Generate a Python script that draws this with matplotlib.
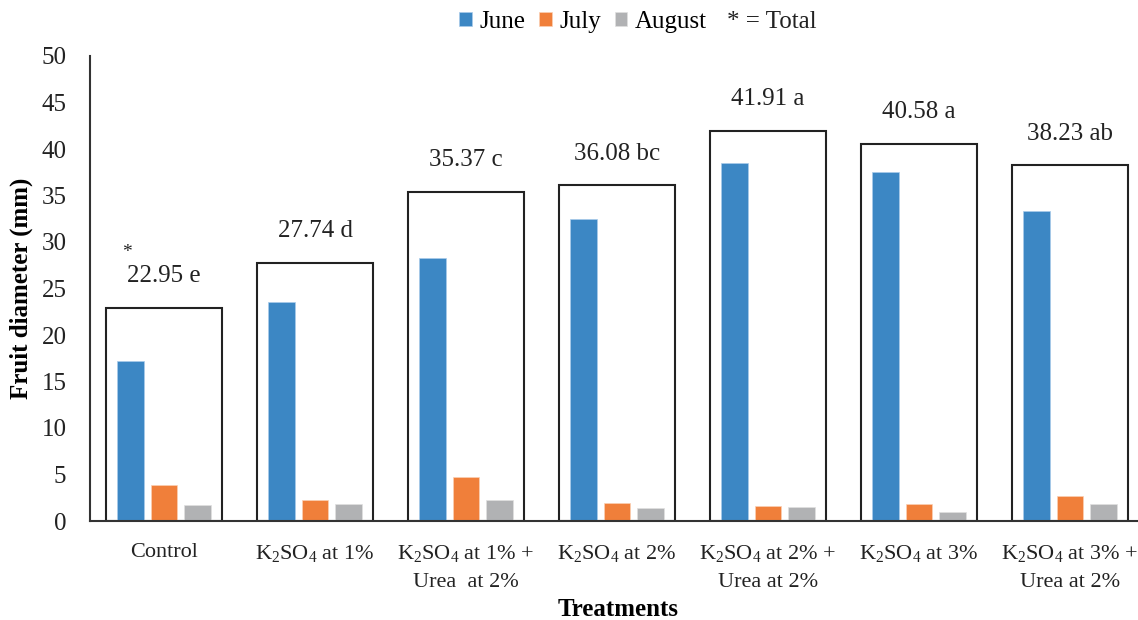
import numpy as np
import matplotlib
matplotlib.use("Agg")
import matplotlib.pyplot as plt

plt.rcParams['font.family'] = ['Liberation Serif', 'DejaVu Serif']
plt.rcParams['mathtext.fontset'] = 'custom'
plt.rcParams['mathtext.rm'] = 'Liberation Serif'
plt.rcParams['mathtext.it'] = 'Liberation Serif:italic'
plt.rcParams['mathtext.bf'] = 'Liberation Serif:bold'

treatments = ["Control",
              "K$_2$SO$_4$ at 1%",
              "K$_2$SO$_4$ at 1% +\nUrea  at 2%",
              "K$_2$SO$_4$ at 2%",
              "K$_2$SO$_4$ at 2% +\nUrea at 2%",
              "K$_2$SO$_4$ at 3%",
              "K$_2$SO$_4$ at 3% +\nUrea at 2%"]
june = [17.25, 23.6, 28.3, 32.5, 38.5, 37.57, 33.37]
july = [3.84, 2.23, 4.74, 1.95, 1.66, 1.83, 2.73]
august = [1.69, 1.8, 2.23, 1.44, 1.54, 0.97, 1.87]
total = [22.95, 27.74, 35.37, 36.08, 41.91, 40.58, 38.23]
letters = ["e", "d", "c", "bc", "a", "a", "ab"]

c_june = "#3C87C4"
c_july = "#F07F3A"
c_aug = "#B1B2B4"

fig = plt.figure(figsize=(11.38, 6.2), dpi=100)
ax = fig.add_axes([90/1138, 99/620, 1 - 90/1138, 465/620])

x = np.arange(len(treatments))
w = 0.175
step = 0.221

ax.bar(x, total, width=0.772, facecolor="none", edgecolor="#222222", linewidth=1.5, zorder=1)
ax.bar(x - step, june, width=w, color=c_june, edgecolor="#A9CCEB", linewidth=0.5, label="June", zorder=2)
ax.bar(x, july, width=w, color=c_july, edgecolor="#FBD0B4", linewidth=0.5, label="July", zorder=2)
ax.bar(x + step, august, width=w, color=c_aug, edgecolor="#E0E0E0", linewidth=0.5, label="August", zorder=2)

for i in range(len(x)):
    ax.annotate(f"{total[i]:.2f} {letters[i]}", (x[i], total[i]), xytext=(0, 23),
                textcoords="offset points", ha="center", va="center", fontsize=18, color="#222222")
ax.annotate("*", (x[0], total[0]), xytext=(-26.5, 40), textcoords="offset points",
            ha="center", va="center", fontsize=14, color="#222222")

ax.set_xlim(-0.49, 6.45)
ax.set_ylim(0, 50)
ax.set_yticks(np.arange(0, 51, 5))
ax.set_xticks(x)
ax.set_xticklabels(treatments, fontsize=16, va="top", linespacing=1.6)
ax.tick_params(axis="y", labelsize=18, length=0, pad=17, colors="#222222")
ax.tick_params(axis="x", length=0, pad=16, colors="#222222")

for s in ["top", "right"]:
    ax.spines[s].set_visible(False)
ax.spines["left"].set_color("#333333")
ax.spines["bottom"].set_color("#333333")
ax.spines["left"].set_linewidth(1.5)
ax.spines["bottom"].set_linewidth(1.5)

ax.set_ylabel("Fruit diameter (mm)", fontsize=18, fontweight="bold")
ax.yaxis.set_label_coords(-57/1048, 0.5)
fig.text(618/1138, 1 - 609/620, "Treatments", fontsize=18, fontweight="bold",
         ha="center", va="center")

leg = fig.legend(loc="center", bbox_to_anchor=(583/1138, 1 - 22/620), ncol=3, frameon=False,
                 fontsize=18, handlelength=0.5, handleheight=0.5, handletextpad=0.3,
                 columnspacing=0.55)
fig.text(727/1138, 1 - 22/620, "* = Total", fontsize=18, ha="left", va="center", color="#222222")

fig.savefig("out.png", dpi=100)
